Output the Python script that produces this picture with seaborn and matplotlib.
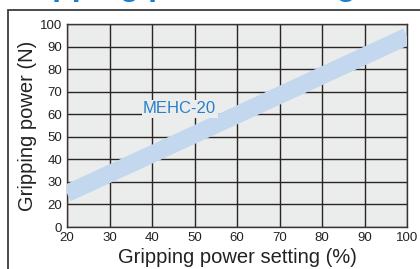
import numpy as np
import pandas as pd
import seaborn as sns
import matplotlib.pyplot as plt
from matplotlib.patches import Rectangle

# values
setting = [20, 100]
power = [24.9, 94.5]
x_ticks = [20, 30, 40, 50, 60, 70, 80, 90, 100]
# y axis is broken at the bottom: the lowest cell runs 0 -> 20
y_ticks = [10, 20, 30, 40, 50, 60, 70, 80, 90, 100]
y_labels = ["0", "20", "30", "40", "50", "60", "70", "80", "90", "100"]
series_name = "MEHC-20"

sns.set_style("white")
plt.rcParams['font.family'] = ['Liberation Sans', 'DejaVu Sans']

fig, ax = plt.subplots(figsize=(4.2, 2.69), dpi=100)
fig.subplots_adjust(left=67/420, right=407/420, bottom=42/269, top=245/269)
ax.set_facecolor('#ebedec')

df = pd.DataFrame({"setting": setting, "power": power})
sns.lineplot(data=df, x="setting", y="power", color='#c3d7ee', linewidth=12.5,
             solid_capstyle='butt', ax=ax, zorder=3)

ax.set_xlim(20, 100)
ax.set_ylim(10, 100)
ax.set_xticks(x_ticks)
ax.set_yticks(y_ticks)
ax.set_yticklabels(y_labels)
ax.grid(True, color='#2b2424', linewidth=1.0)
for s in ax.spines.values():
    s.set_color('#3a3434')
    s.set_linewidth(1.0)
ax.tick_params(length=0, labelsize=9.5, pad=3.5, colors='#222222')

ax.set_xlabel("Gripping power setting (%)", fontsize=14.5, labelpad=3, color='#222222')
ax.set_ylabel("Gripping power (N)", fontsize=14.5, labelpad=2, color='#222222')

ax.text(46.5, 62.4, series_name, color='#2a7fc9', fontsize=12, ha='center', va='center',
        bbox=dict(facecolor='#ebedec', edgecolor='none', pad=1), zorder=4)

# outer frame, cut off at right and bottom
fig.patches.append(Rectangle((8/420, -0.1), 1.0, (269-10)/269 + 0.1, transform=fig.transFigure,
                             fill=False, edgecolor='#3d3d3d', linewidth=1.3, figure=fig))

# title mostly cut off above the picture, only descenders show
fig.text(6/420, 1 + 4.5/269, "Gripping power setting", color='#1a7fd0', fontsize=23,
         fontweight='bold', ha='left', va='baseline')

fig.savefig("out.png", dpi=100)
